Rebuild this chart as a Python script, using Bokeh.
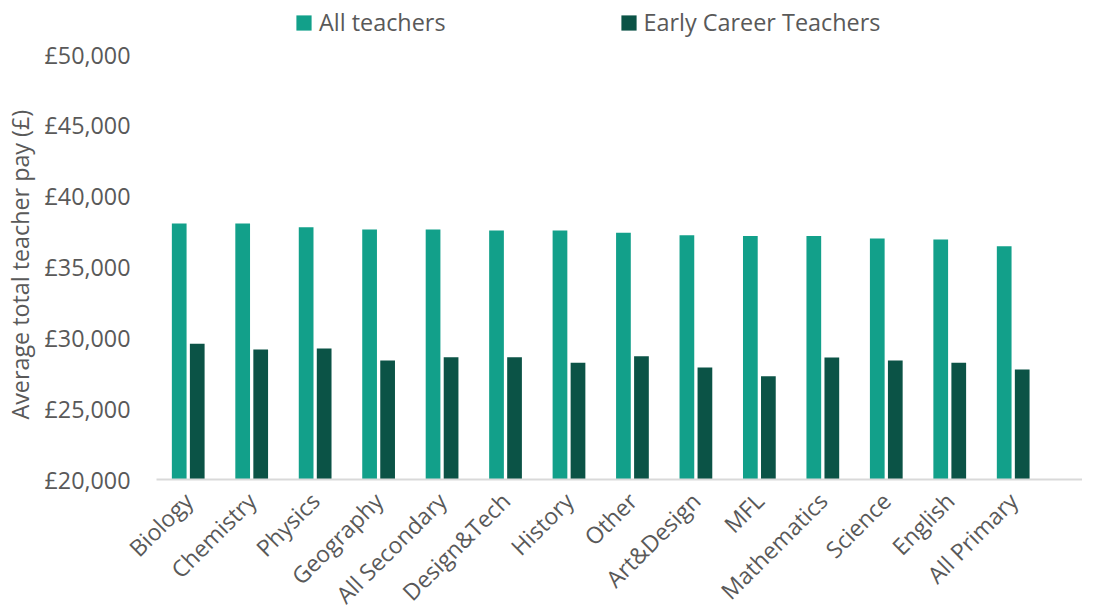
import numpy as np
from bokeh.plotting import figure
from bokeh.models import Range1d, FixedTicker, Legend, LegendItem, ColumnDataSource, Title
from bokeh.embed import file_html
from bokeh.resources import INLINE

categories = ["Biology", "Chemistry", "Physics", "Geography", "All Secondary", "Design&Tech",
              "History", "Other", "Art&Design", "MFL", "Mathematics", "Science", "English", "All Primary"]
all_teachers = [38070, 38070, 37810, 37650, 37650, 37580, 37580, 37420, 37250, 37180, 37180, 37010, 36940, 36470]
early_career = [29580, 29180, 29250, 28400, 28630, 28630, 28240, 28700, 27900, 27290, 28610, 28400, 28240, 27770]
y_ticks = [20000, 25000, 30000, 35000, 40000, 45000, 50000]
y_tick_labels = ["£20,000", "£25,000", "£30,000", "£35,000", "£40,000", "£45,000", "£50,000"]

TEAL = "#12A08A"
DARK = "#0B5346"
GREY = "#595959"
FONT = "Open Sans"

x = np.arange(len(categories)) + 0.5
src = ColumnDataSource(dict(x_all=x - 0.142, x_ect=x + 0.142, all=all_teachers, ect=early_career))

p = figure(width=1082, height=612, output_backend="svg", toolbar_location=None,
           x_range=Range1d(-1.8752, 14.592), y_range=Range1d(10612, 53812),
           min_border_left=37, min_border_right=0, min_border_top=0, min_border_bottom=0)
p.outline_line_color = None
p.xgrid.grid_line_color = None
p.ygrid.grid_line_color = None

r1 = p.vbar(x="x_all", top="all", bottom=20000, width=0.232, source=src, fill_color=TEAL, line_color=None)
r2 = p.vbar(x="x_ect", top="ect", bottom=20000, width=0.232, source=src, fill_color=DARK, line_color=None)

# x axis drawn along the £20,000 baseline
p.xaxis.fixed_location = 20000
p.xaxis.bounds = (0, 14.592)
p.xaxis.ticker = FixedTicker(ticks=list(x))
p.xaxis.major_label_overrides = {float(v): c for v, c in zip(x, categories)}
p.xaxis.major_label_orientation = np.pi / 4
p.xaxis.axis_line_color = "#D9D9D9"
p.xaxis.axis_line_width = 2
p.xaxis.major_tick_line_color = None
p.xaxis.minor_tick_line_color = None
p.xaxis.major_tick_out = 0
p.xaxis.major_tick_in = 0
p.xaxis.major_label_text_font = FONT
p.xaxis.major_label_text_font_size = "23px"
p.xaxis.major_label_text_color = GREY
p.xaxis.major_label_standoff = 17

# y axis drawn at the left edge of the category area
p.yaxis.fixed_location = 0
p.yaxis.ticker = FixedTicker(ticks=y_ticks)
p.yaxis.major_label_overrides = {v: l for v, l in zip(y_ticks, y_tick_labels)}
p.yaxis.axis_line_color = None
p.yaxis.major_tick_line_color = None
p.yaxis.minor_tick_line_color = None
p.yaxis.major_tick_out = 0
p.yaxis.major_tick_in = 0
p.yaxis.major_label_text_font = FONT
p.yaxis.major_label_text_font_size = "23.3px"
p.yaxis.major_label_text_color = GREY
p.yaxis.major_label_standoff = 26

ytitle = Title(text="Average total teacher pay (£)", align="left", vertical_align="top",
               offset=193, standoff=0, text_font=FONT, text_font_size="23.3px",
               text_font_style="normal", text_color=GREY)
p.add_layout(ytitle, "left")

legend = Legend(items=[LegendItem(label="All teachers", renderers=[r1]),
                       LegendItem(label="Early Career Teachers", renderers=[r2])],
                orientation="horizontal", location=(257, 574),
                glyph_width=19, glyph_height=19, label_standoff=6, spacing=173,
                padding=0, margin=0, border_line_color=None, background_fill_alpha=0,
                label_text_font=FONT, label_text_font_size="23.4px", label_text_color=GREY)
p.add_layout(legend, "center")

open("out.html", "w").write(file_html(p, INLINE))
